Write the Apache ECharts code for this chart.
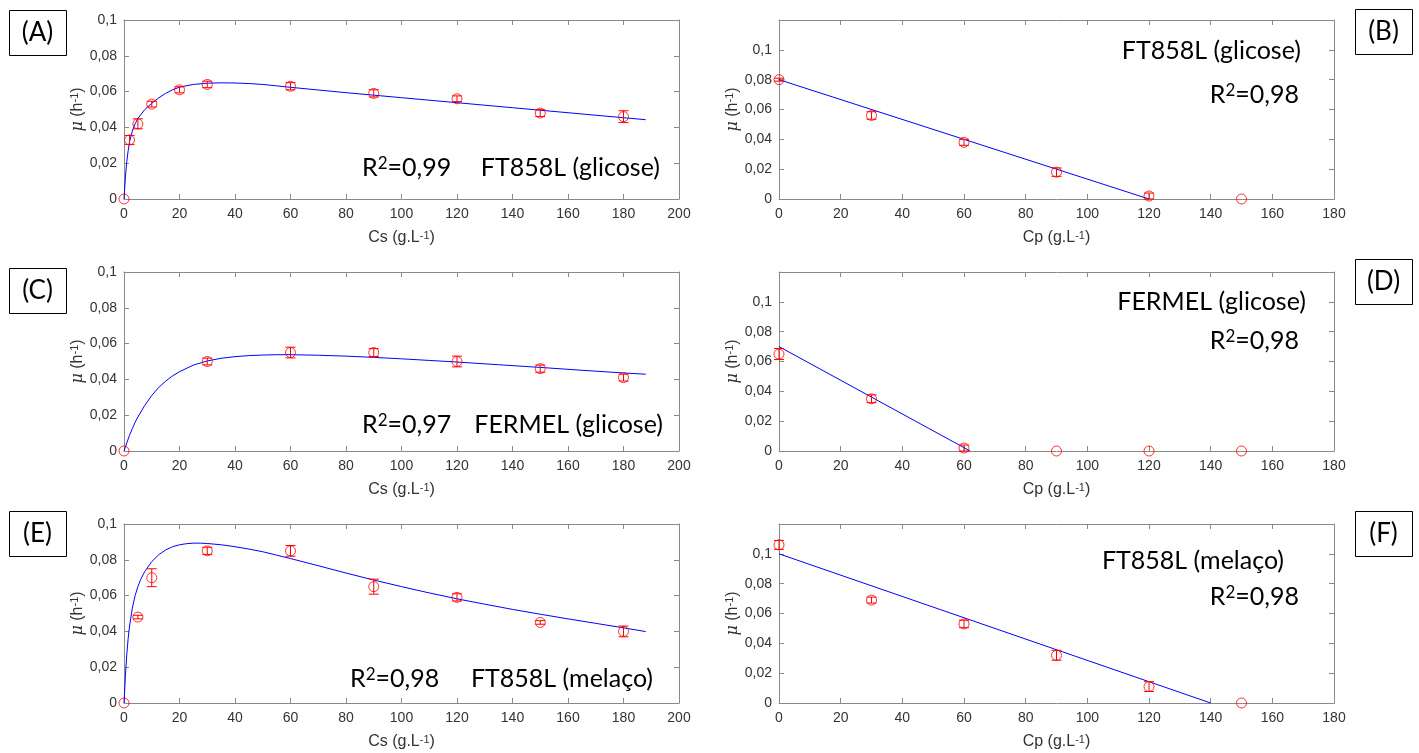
<!DOCTYPE html>
<html><head><meta charset="utf-8">
<script src="https://cdn.jsdelivr.net/npm/echarts@6/dist/echarts.min.js"></script>
<style>html,body{margin:0;padding:0;background:#fff}#c{width:1419px;height:753px}</style>
</head><body><div id="c"></div>
<script>
// ---------- Panel A: FT858L (glicose), mu vs Cs ----------
const csA  = [0, 2, 5, 10, 20, 30, 60, 90, 120, 150, 180];
const muA  = [0, 0.033, 0.042, 0.053, 0.061, 0.064, 0.063, 0.059, 0.056, 0.048, 0.046];
const errA = [0, 0.0025, 0.0028, 0.0016, 0.0017, 0.0018, 0.002, 0.002, 0.0016, 0.0019, 0.0033];
const fitXA = [0, 0.5, 1, 1.5, 2, 3, 4, 5, 7.5, 10, 12.5, 15, 17.5, 20, 25, 30, 35, 40, 45, 50, 55, 60, 70, 80, 100, 120, 140, 160, 180, 188];
const fitYA = [0, 0.012, 0.021, 0.027, 0.032, 0.038, 0.042, 0.045, 0.050, 0.0535, 0.0565, 0.059, 0.061, 0.0625, 0.064, 0.0647, 0.0649, 0.0648, 0.0645, 0.064, 0.0632, 0.0624, 0.0609, 0.0594, 0.0566, 0.0538, 0.051, 0.0482, 0.0454, 0.0443];

// ---------- Panel B: FT858L (glicose), mu vs Cp ----------
const cpB  = [0, 30, 60, 90, 120, 150];
const muB  = [0.080, 0.056, 0.038, 0.018, 0.002, 0];
const errB = [0.001, 0.0025, 0.002, 0.0028, 0.002, 0];
const fitXB = [0, 120];
const fitYB = [0.080, 0];

// ---------- Panel C: FERMEL (glicose), mu vs Cs ----------
const csC  = [0, 30, 60, 90, 120, 150, 180];
const muC  = [0, 0.050, 0.055, 0.055, 0.050, 0.046, 0.041];
const errC = [0, 0.0019, 0.003, 0.0022, 0.003, 0.002, 0.0019];
const fitXC = [0, 1, 2, 3, 4, 5, 7.5, 10, 12.5, 15, 17.5, 20, 25, 30, 35, 40, 45, 50, 55, 60, 70, 80, 90, 100, 110, 120, 135, 150, 165, 180, 188];
const fitYC = [0, 0.0045, 0.0088, 0.0125, 0.016, 0.019, 0.0255, 0.031, 0.0355, 0.039, 0.042, 0.0443, 0.048, 0.0503, 0.0518, 0.0527, 0.0533, 0.0536, 0.0538, 0.0538, 0.0535, 0.053, 0.0523, 0.0515, 0.0506, 0.0497, 0.0482, 0.0467, 0.0451, 0.0436, 0.0429];

// ---------- Panel D: FERMEL (glicose), mu vs Cp ----------
const cpD  = [0, 30, 60, 90, 120, 150];
const muD  = [0.065, 0.035, 0.002, 0, 0, 0];
const errD = [0.0037, 0.0026, 0.002, 0, 0, 0];
const fitXD = [0, 62];
const fitYD = [0.070, 0];

// ---------- Panel E: FT858L (melaço), mu vs Cs ----------
const csE  = [0, 5, 10, 30, 60, 90, 120, 150, 180];
const muE  = [0, 0.048, 0.070, 0.085, 0.085, 0.065, 0.059, 0.045, 0.040];
const errE = [0, 0.001, 0.005, 0.002, 0.003, 0.0042, 0.002, 0.001, 0.003];
const fitXE = [0, 0.5, 1, 1.5, 2, 3, 4, 5, 6, 7.5, 10, 12.5, 15, 17.5, 20, 22.5, 25, 27.5, 30, 35, 40, 45, 50, 55, 60, 70, 80, 90, 100, 110, 120, 130, 140, 150, 160, 170, 180, 188];
const fitYE = [0, 0.015, 0.027, 0.036, 0.043, 0.053, 0.060, 0.065, 0.069, 0.0735, 0.079, 0.0828, 0.0855, 0.0873, 0.0884, 0.089, 0.0893, 0.0893, 0.0891, 0.0884, 0.0873, 0.086, 0.0845, 0.0826, 0.0807, 0.0767, 0.0726, 0.0687, 0.065, 0.0615, 0.0582, 0.0552, 0.0523, 0.0496, 0.047, 0.0445, 0.042, 0.0399];

// ---------- Panel F: FT858L (melaço), mu vs Cp ----------
const cpF  = [0, 30, 60, 90, 120, 150];
const muF  = [0.106, 0.069, 0.053, 0.032, 0.011, 0];
const errF = [0.003, 0.002, 0.0025, 0.0033, 0.0033, 0];
const fitXF = [0, 140];
const fitYF = [0.100, 0];

// text labels
const xNameS = 'Cs (g.L{s|-1})';
const xNameP = 'Cp (g.L{s|-1})';
const yName = '{m|μ} (h{s|-1})';
const panelLetters = ['(A)', '(B)', '(C)', '(D)', '(E)', '(F)'];
const r2Texts = ['R{s|2}=0,99', 'R{s|2}=0,98', 'R{s|2}=0,97', 'R{s|2}=0,98', 'R{s|2}=0,98', 'R{s|2}=0,98'];
const strainTexts = ['FT858L (glicose)', 'FT858L (glicose)', 'FERMEL (glicose)', 'FERMEL (glicose)', 'FT858L (melaço)', 'FT858L (melaço)'];

const panels = [
  {xs: csA, ys: muA, es: errA, fx: fitXA, fy: fitYA, xmax: 200, ymax: 0.1, xname: xNameS},
  {xs: cpB, ys: muB, es: errB, fx: fitXB, fy: fitYB, xmax: 180, ymax: 0.12, xname: xNameP},
  {xs: csC, ys: muC, es: errC, fx: fitXC, fy: fitYC, xmax: 200, ymax: 0.1, xname: xNameS},
  {xs: cpD, ys: muD, es: errD, fx: fitXD, fy: fitYD, xmax: 180, ymax: 0.12, xname: xNameP},
  {xs: csE, ys: muE, es: errE, fx: fitXE, fy: fitYE, xmax: 200, ymax: 0.1, xname: xNameS},
  {xs: cpF, ys: muF, es: errF, fx: fitXF, fy: fitYF, xmax: 180, ymax: 0.12, xname: xNameP}
];

const gridPos = [
  {left: 124, top: 20}, {left: 779, top: 20},
  {left: 124, top: 272}, {left: 779, top: 272},
  {left: 124, top: 524}, {left: 779, top: 524}
];
const AX = '#8a8a8a', LBL = '#333333', TICKF = 'Liberation Sans';

function fmtY(v) {
  if (v > 0.1001) return '';
  return String(+v.toFixed(3)).replace('.', ',');
}

const grids = [], xAxes = [], yAxes = [], series = [];
panels.forEach((p, i) => {
  grids.push({left: gridPos[i].left, top: gridPos[i].top, width: 555, height: 179, containLabel: false});
  const common = {gridIndex: i, type: 'value', splitLine: {show: false},
    axisLine: {show: true, onZero: false, lineStyle: {color: AX, width: 1}},
    axisTick: {show: true, inside: true, length: 5, lineStyle: {color: AX}}};
  xAxes.push(Object.assign({}, common, {position: 'bottom', min: 0, max: p.xmax, interval: 20,
    axisLabel: {color: LBL, fontSize: 14, fontFamily: TICKF, margin: 8},
    name: p.xname, nameLocation: 'middle', nameGap: 31,
    nameTextStyle: {color: LBL, fontSize: 16, fontFamily: TICKF,
      rich: {s: {fontSize: 11, fontFamily: TICKF, color: LBL, verticalAlign: 'top'}}}}));
  xAxes.push(Object.assign({}, common, {position: 'top', min: 0, max: p.xmax, interval: 20,
    axisLabel: {show: false}}));
  yAxes.push(Object.assign({}, common, {position: 'left', min: 0, max: p.ymax, interval: 0.02,
    axisLabel: {color: LBL, fontSize: 14, fontFamily: TICKF, margin: 7, formatter: fmtY},
    name: yName, nameLocation: 'middle', nameGap: 37, nameRotate: 90,
    nameTextStyle: {color: LBL, fontSize: 16, fontFamily: TICKF, rich: {
      m: {fontStyle: 'italic', fontFamily: 'DejaVu Serif', fontSize: 16, color: LBL},
      s: {fontSize: 11, fontFamily: TICKF, color: LBL, verticalAlign: 'top'}}}}));
  yAxes.push(Object.assign({}, common, {position: 'right', min: 0, max: p.ymax, interval: 0.02,
    axisLabel: {show: false}}));

  series.push({type: 'line', xAxisIndex: 2 * i, yAxisIndex: 2 * i,
    data: p.fx.map((x, k) => [x, p.fy[k]]), smooth: false, showSymbol: false, symbol: 'none',
    lineStyle: {color: '#0000ff', width: 1}, silent: true, z: 2});
  series.push({type: 'custom', xAxisIndex: 2 * i, yAxisIndex: 2 * i,
    data: p.xs.map((x, k) => [x, p.ys[k], p.es[k]]), silent: true, z: 3, clip: false,
    renderItem: function (params, api) {
      const x = api.value(0), y = api.value(1), e = api.value(2);
      if (!e) return null;
      const t = api.coord([x, y + e]), b = api.coord([x, y - e]);
      const hw = 5, st = {stroke: '#ff0000', lineWidth: 1};
      return {type: 'group', children: [
        {type: 'line', shape: {x1: t[0], y1: t[1], x2: b[0], y2: b[1]}, style: st},
        {type: 'line', shape: {x1: t[0] - hw, y1: t[1], x2: t[0] + hw, y2: t[1]}, style: st},
        {type: 'line', shape: {x1: b[0] - hw, y1: b[1], x2: b[0] + hw, y2: b[1]}, style: st}
      ]};
    }});
  series.push({type: 'scatter', xAxisIndex: 2 * i, yAxisIndex: 2 * i,
    data: p.xs.map((x, k) => [x, p.ys[k]]), symbol: 'circle', symbolSize: 10, clip: false,
    itemStyle: {color: 'rgba(0,0,0,0)', borderColor: '#ff0000', borderWidth: 1}, silent: true, z: 4});
});

const graphic = [];
const letterBoxes = [
  {x: 9, y: 10}, {x: 1355, y: 9},
  {x: 9, y: 268}, {x: 1355, y: 259},
  {x: 9, y: 511}, {x: 1355, y: 511}
];
letterBoxes.forEach((b, i) => {
  graphic.push({type: 'rect', left: b.x, top: b.y, shape: {width: 57, height: 45},
    style: {fill: '#fff', stroke: '#000', lineWidth: 1}, silent: true});
  graphic.push({type: 'text', x: b.x + 28.5, y: b.y + 23, style: {text: panelLetters[i],
    fontSize: 26, fontFamily: 'Lato', fill: '#000', align: 'center', verticalAlign: 'middle'}, silent: true});
});
const annPos = [
  {r2: [362, 168, 'left'], st: [660, 168, 'right']},
  {st: [1301, 51, 'right'], r2: [1299, 95, 'right']},
  {r2: [362, 425, 'left'], st: [663, 425, 'right']},
  {st: [1306, 302, 'right'], r2: [1299, 341, 'right']},
  {r2: [350, 679, 'left'], st: [653, 679, 'right']},
  {st: [1284, 561, 'right'], r2: [1299, 597, 'right']}
];
const supRich = {s: {fontSize: 17, fontFamily: 'Lato', fill: '#000', verticalAlign: 'top', padding: [0, 0, 2, 0]}};
annPos.forEach((a, i) => {
  graphic.push({type: 'text', x: a.r2[0], y: a.r2[1], style: {text: r2Texts[i], rich: supRich,
    fontSize: 25, fontFamily: 'Lato', fill: '#000', align: a.r2[2], verticalAlign: 'middle'}, silent: true});
  graphic.push({type: 'text', x: a.st[0], y: a.st[1], style: {text: strainTexts[i],
    fontSize: 25, fontFamily: 'Lato', fill: '#000', align: a.st[2], verticalAlign: 'middle'}, silent: true});
});

const chart = echarts.init(document.getElementById('c'), null, {renderer: 'canvas'});
chart.setOption({
  animation: false,
  backgroundColor: '#fff',
  grid: grids, xAxis: xAxes, yAxis: yAxes, series: series, graphic: graphic
});
</script></body></html>
